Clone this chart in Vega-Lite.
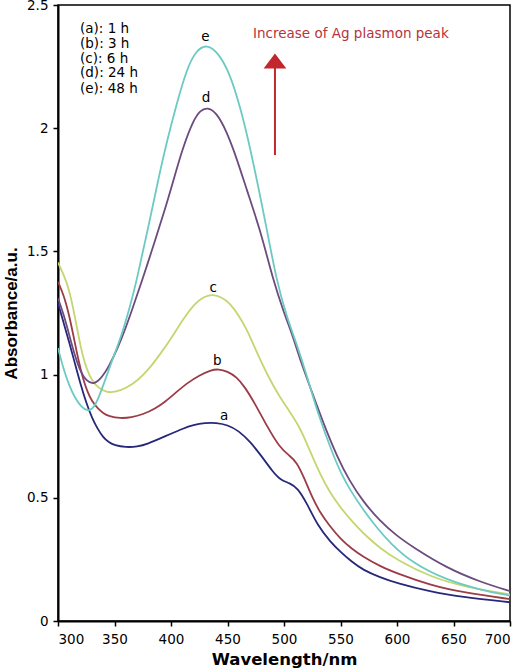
{
  "$schema": "https://vega.github.io/schema/vega-lite/v6.json",
  "width": 452,
  "height": 616,
  "autosize": {"type": "none"},
  "padding": {"left": 58, "top": 5, "right": 14, "bottom": 49},
  "background": "white",
  "config": {
    "view": {"stroke": "black", "strokeWidth": 1.5},
    "axis": {"grid": false, "domainColor": "black", "domainWidth": 2, "tickColor": "black", "tickWidth": 1.5, "tickSize": 5, "labelColor": "black", "labelFont": "DejaVu Sans", "labelFontSize": 13.5, "titleColor": "black"}
  },
  "datasets": {
    "spectra": [
      {"s":"a","w":300,"v":1.29},{"s":"a","w":305,"v":1.21},{"s":"a","w":310,"v":1.13},{"s":"a","w":315,"v":1.045},{"s":"a","w":320,"v":0.96},{"s":"a","w":325,"v":0.885},{"s":"a","w":330,"v":0.825},{"s":"a","w":335,"v":0.78},{"s":"a","w":340,"v":0.745},{"s":"a","w":345,"v":0.725},{"s":"a","w":350,"v":0.713},{"s":"a","w":360,"v":0.705},{"s":"a","w":370,"v":0.707},{"s":"a","w":380,"v":0.72},{"s":"a","w":390,"v":0.74},{"s":"a","w":400,"v":0.76},{"s":"a","w":410,"v":0.78},{"s":"a","w":420,"v":0.796},{"s":"a","w":430,"v":0.804},{"s":"a","w":440,"v":0.805},{"s":"a","w":450,"v":0.796},{"s":"a","w":460,"v":0.772},{"s":"a","w":470,"v":0.728},{"s":"a","w":480,"v":0.67},{"s":"a","w":490,"v":0.606},{"s":"a","w":497,"v":0.572},{"s":"a","w":505,"v":0.56},{"s":"a","w":512,"v":0.54},{"s":"a","w":520,"v":0.48},{"s":"a","w":530,"v":0.385},{"s":"a","w":541,"v":0.322},{"s":"a","w":550,"v":0.28},{"s":"a","w":560,"v":0.24},{"s":"a","w":570,"v":0.207},{"s":"a","w":585,"v":0.177},{"s":"a","w":600,"v":0.153},{"s":"a","w":629,"v":0.119},{"s":"a","w":659,"v":0.096},{"s":"a","w":700,"v":0.076},
      {"s":"b","w":300,"v":1.376},{"s":"b","w":305,"v":1.325},{"s":"b","w":310,"v":1.24},{"s":"b","w":314,"v":1.15},{"s":"b","w":318,"v":1.06},{"s":"b","w":322,"v":0.985},{"s":"b","w":326,"v":0.93},{"s":"b","w":330,"v":0.893},{"s":"b","w":335,"v":0.863},{"s":"b","w":340,"v":0.843},{"s":"b","w":345,"v":0.831},{"s":"b","w":355,"v":0.822},{"s":"b","w":365,"v":0.826},{"s":"b","w":375,"v":0.838},{"s":"b","w":386,"v":0.862},{"s":"b","w":395,"v":0.89},{"s":"b","w":405,"v":0.93},{"s":"b","w":415,"v":0.968},{"s":"b","w":425,"v":0.997},{"s":"b","w":435,"v":1.018},{"s":"b","w":442,"v":1.023},{"s":"b","w":450,"v":1.013},{"s":"b","w":458,"v":0.99},{"s":"b","w":465,"v":0.952},{"s":"b","w":474,"v":0.885},{"s":"b","w":485,"v":0.79},{"s":"b","w":496,"v":0.705},{"s":"b","w":505,"v":0.67},{"s":"b","w":511,"v":0.647},{"s":"b","w":518,"v":0.58},{"s":"b","w":525,"v":0.5},{"s":"b","w":532,"v":0.44},{"s":"b","w":540,"v":0.388},{"s":"b","w":550,"v":0.333},{"s":"b","w":560,"v":0.293},{"s":"b","w":570,"v":0.261},{"s":"b","w":585,"v":0.222},{"s":"b","w":600,"v":0.193},{"s":"b","w":629,"v":0.146},{"s":"b","w":659,"v":0.115},{"s":"b","w":700,"v":0.089},
      {"s":"c","w":300,"v":1.455},{"s":"c","w":305,"v":1.405},{"s":"c","w":310,"v":1.345},{"s":"c","w":315,"v":1.235},{"s":"c","w":320,"v":1.11},{"s":"c","w":325,"v":1.025},{"s":"c","w":330,"v":0.975},{"s":"c","w":336,"v":0.945},{"s":"c","w":343,"v":0.928},{"s":"c","w":350,"v":0.928},{"s":"c","w":360,"v":0.943},{"s":"c","w":371,"v":0.978},{"s":"c","w":380,"v":1.02},{"s":"c","w":390,"v":1.08},{"s":"c","w":401,"v":1.153},{"s":"c","w":410,"v":1.22},{"s":"c","w":421,"v":1.29},{"s":"c","w":430,"v":1.318},{"s":"c","w":437,"v":1.326},{"s":"c","w":445,"v":1.314},{"s":"c","w":452,"v":1.29},{"s":"c","w":460,"v":1.24},{"s":"c","w":467,"v":1.185},{"s":"c","w":474,"v":1.11},{"s":"c","w":485,"v":1.0},{"s":"c","w":496,"v":0.91},{"s":"c","w":505,"v":0.85},{"s":"c","w":514,"v":0.787},{"s":"c","w":523,"v":0.69},{"s":"c","w":532,"v":0.595},{"s":"c","w":541,"v":0.518},{"s":"c","w":550,"v":0.46},{"s":"c","w":560,"v":0.405},{"s":"c","w":570,"v":0.356},{"s":"c","w":585,"v":0.295},{"s":"c","w":600,"v":0.248},{"s":"c","w":629,"v":0.18},{"s":"c","w":659,"v":0.139},{"s":"c","w":700,"v":0.108},
      {"s":"d","w":300,"v":1.31},{"s":"d","w":305,"v":1.245},{"s":"d","w":310,"v":1.16},{"s":"d","w":315,"v":1.075},{"s":"d","w":320,"v":1.01},{"s":"d","w":325,"v":0.975},{"s":"d","w":331,"v":0.96},{"s":"d","w":337,"v":0.978},{"s":"d","w":345,"v":1.03},{"s":"d","w":356,"v":1.14},{"s":"d","w":365,"v":1.255},{"s":"d","w":375,"v":1.39},{"s":"d","w":386,"v":1.545},{"s":"d","w":395,"v":1.675},{"s":"d","w":402,"v":1.785},{"s":"d","w":410,"v":1.915},{"s":"d","w":420,"v":2.035},{"s":"d","w":426,"v":2.072},{"s":"d","w":432,"v":2.085},{"s":"d","w":440,"v":2.065},{"s":"d","w":449,"v":1.99},{"s":"d","w":458,"v":1.88},{"s":"d","w":467,"v":1.75},{"s":"d","w":479,"v":1.587},{"s":"d","w":490,"v":1.39},{"s":"d","w":500,"v":1.25},{"s":"d","w":508,"v":1.154},{"s":"d","w":515,"v":1.05},{"s":"d","w":523,"v":0.951},{"s":"d","w":535,"v":0.8},{"s":"d","w":547,"v":0.667},{"s":"d","w":558,"v":0.568},{"s":"d","w":570,"v":0.485},{"s":"d","w":585,"v":0.405},{"s":"d","w":600,"v":0.345},{"s":"d","w":614,"v":0.3},{"s":"d","w":644,"v":0.215},{"s":"d","w":674,"v":0.158},{"s":"d","w":700,"v":0.121},
      {"s":"e","w":300,"v":1.108},{"s":"e","w":305,"v":1.02},{"s":"e","w":310,"v":0.955},{"s":"e","w":315,"v":0.905},{"s":"e","w":320,"v":0.872},{"s":"e","w":327,"v":0.848},{"s":"e","w":333,"v":0.87},{"s":"e","w":340,"v":0.955},{"s":"e","w":348,"v":1.06},{"s":"e","w":356,"v":1.155},{"s":"e","w":364,"v":1.28},{"s":"e","w":370,"v":1.39},{"s":"e","w":380,"v":1.6},{"s":"e","w":390,"v":1.82},{"s":"e","w":396,"v":1.939},{"s":"e","w":405,"v":2.1},{"s":"e","w":414,"v":2.24},{"s":"e","w":422,"v":2.315},{"s":"e","w":432,"v":2.342},{"s":"e","w":442,"v":2.305},{"s":"e","w":452,"v":2.223},{"s":"e","w":461,"v":2.09},{"s":"e","w":470,"v":1.925},{"s":"e","w":485,"v":1.587},{"s":"e","w":493,"v":1.39},{"s":"e","w":502,"v":1.24},{"s":"e","w":511,"v":1.127},{"s":"e","w":520,"v":1.0},{"s":"e","w":530,"v":0.84},{"s":"e","w":544,"v":0.667},{"s":"e","w":551,"v":0.595},{"s":"e","w":558,"v":0.535},{"s":"e","w":570,"v":0.452},{"s":"e","w":581,"v":0.385},{"s":"e","w":594,"v":0.315},{"s":"e","w":614,"v":0.234},{"s":"e","w":644,"v":0.166},{"s":"e","w":674,"v":0.126},{"s":"e","w":700,"v":0.103}
    ],
    "curveLabels": [
      {"t":"a","w":447,"v":0.833},
      {"t":"b","w":441,"v":1.055},
      {"t":"c","w":437.4,"v":1.35},
      {"t":"d","w":431,"v":2.121},
      {"t":"e","w":430.5,"v":2.37}
    ],
    "legendLines": [
      {"t":"(a): 1 h","w":319.5,"v":2.403},
      {"t":"(b): 3 h","w":319.5,"v":2.342},
      {"t":"(c): 6 h","w":319.5,"v":2.281},
      {"t":"(d): 24 h","w":319.5,"v":2.222},
      {"t":"(e): 48 h","w":319.5,"v":2.158}
    ],
    "arrow": [{"w":492,"v":1.891,"v2":2.25,"head":2.273}],
    "note": [{"t":"Increase of Ag plasmon peak","w":472.6,"v":2.382}]
  },
  "layer": [
    {
      "data": {"name": "spectra"},
      "mark": {"type": "line", "interpolate": "basis", "strokeWidth": 1.8, "clip": true},
      "encoding": {
        "x": {"field": "w", "type": "quantitative", "scale": {"domain": [300, 700], "nice": false, "zero": false},
              "axis": {"values": [300,350,400,450,500,550,600,650,700], "title": "Wavelength/nm", "titleFont": "DejaVu Sans", "titleFontSize": 16.5, "titleFontWeight": "bold", "labelPadding": 6, "titlePadding": 6}},
        "y": {"field": "v", "type": "quantitative", "scale": {"domain": [0, 2.5], "nice": false},
              "axis": {"values": [0,0.5,1,1.5,2,2.5], "format": "~g", "title": "Absorbance/a.u.", "titleFont": "Liberation Sans", "titleFontSize": 17, "titleFontWeight": "bold", "labelPadding": 5, "titlePadding": 6}},
        "color": {"field": "s", "type": "nominal", "legend": null,
                  "scale": {"domain": ["a","b","c","d","e"], "range": ["#27287a","#9c3c47","#c4d66f","#6c4b7e","#6ccac3"]}},
        "detail": {"field": "s"}
      }
    },
    {
      "data": {"name": "curveLabels"},
      "mark": {"type": "text", "font": "DejaVu Sans", "fontSize": 13.5, "baseline": "middle", "align": "center", "color": "black"},
      "encoding": {"x": {"field": "w", "type": "quantitative"}, "y": {"field": "v", "type": "quantitative"}, "text": {"field": "t"}}
    },
    {
      "data": {"name": "legendLines"},
      "mark": {"type": "text", "font": "DejaVu Sans", "fontSize": 13.5, "baseline": "middle", "align": "left", "color": "black"},
      "encoding": {"x": {"field": "w", "type": "quantitative"}, "y": {"field": "v", "type": "quantitative"}, "text": {"field": "t"}}
    },
    {
      "data": {"name": "arrow"},
      "mark": {"type": "rule", "color": "#c1272d", "strokeWidth": 2},
      "encoding": {"x": {"field": "w", "type": "quantitative"}, "y": {"field": "v", "type": "quantitative"}, "y2": {"field": "v2"}}
    },
    {
      "data": {"name": "arrow"},
      "mark": {"type": "point", "shape": "M0,-0.66L1,0.66L-1,0.66Z", "filled": true, "color": "#c1272d", "size": 515, "opacity": 1},
      "encoding": {"x": {"field": "w", "type": "quantitative"}, "y": {"field": "head", "type": "quantitative"}}
    },
    {
      "data": {"name": "note"},
      "mark": {"type": "text", "font": "DejaVu Sans", "fontSize": 13.5, "baseline": "middle", "align": "left", "color": "#b8323a"},
      "encoding": {"x": {"field": "w", "type": "quantitative"}, "y": {"field": "v", "type": "quantitative"}, "text": {"field": "t"}}
    }
  ]
}
